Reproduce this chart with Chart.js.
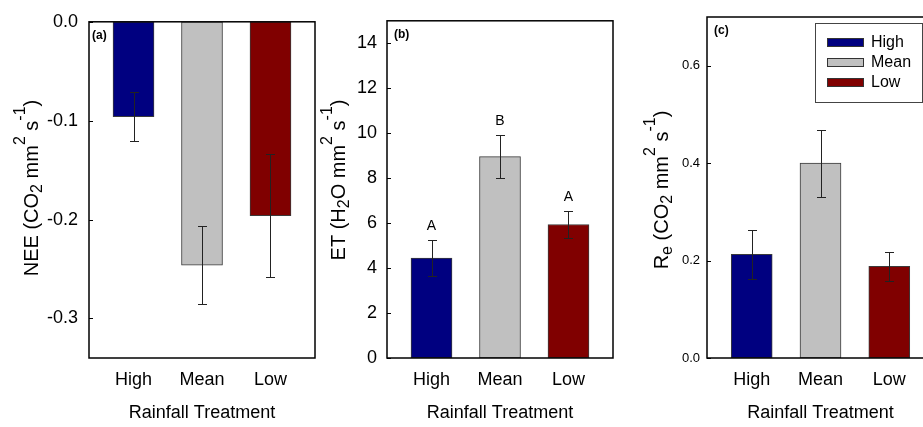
<!DOCTYPE html>
<html>
<head>
<meta charset="utf-8">
<script src="https://cdn.jsdelivr.net/npm/chart.js@4.4.1/dist/chart.umd.min.js"></script>
<style>
  html, body { margin: 0; padding: 0; overflow: hidden; background: #fff; width: 923px; height: 427px; }
  canvas { position: absolute; top: 0; }
</style>
</head>
<body>
<canvas id="panelA" width="330" height="427" style="left:0px;width:330px;height:427px"></canvas>
<canvas id="panelB" width="310" height="427" style="left:310px;width:310px;height:427px"></canvas>
<canvas id="panelC" width="330" height="427" style="left:620px;width:330px;height:427px"></canvas>
<script>
// Rainfall treatments and bar fills
const categories = ['High', 'Mean', 'Low'];
const barColors = ['#000080', '#c0c0c0', '#800000'];

// (a) net ecosystem exchange
const neeMean = [-0.096, -0.246, -0.196];
const neeSE = [0.025, 0.039, 0.062];
const neeTicks = [0, -0.1, -0.2, -0.3];

// (b) evapotranspiration
const etMean = [4.44, 8.96, 5.94];
const etSE = [0.80, 0.97, 0.59];
const etLetters = ['A', 'B', 'A'];
const etTicks = [0, 2, 4, 6, 8, 10, 12, 14];

// (c) ecosystem respiration
const reMean = [0.213, 0.400, 0.188];
const reSE = [0.050, 0.069, 0.029];
const reTicks = [0, 0.2, 0.4, 0.6];

// Axis titles as [text, style] pieces: 0 normal, 1 subscript, 2 superscript
const neeTitle = [['NEE (CO', 0], ['2', 1], [' mm', 0], ['2', 2], [' s', 0], ['-1', 2], [')', 0]];
const etTitle = [['ET (H', 0], ['2', 1], ['O mm', 0], ['2', 2], [' s', 0], ['-1', 2], [')', 0]];
const reTitle = [['R', 0], ['e', 1], [' (CO', 0], ['2', 1], [' mm', 0], ['2', 2], [' s', 0], ['-1', 2], [')', 0]];
const xTitle = 'Rainfall Treatment';

const FONT = '"Liberation Sans", Arial, sans-serif';
const H = 427, PLOT_TOP = 17, PLOT_BOTTOM = 358;

// Box around the plot area with short inward ticks on the value axis
const frame = {
  id: 'frame',
  afterDraw(chart) {
    const {ctx, chartArea: a, scales: {y}} = chart;
    ctx.save();
    ctx.strokeStyle = '#000';
    ctx.lineWidth = 1.5;
    ctx.strokeRect(a.left, a.top, a.right - a.left, a.bottom - a.top);
    ctx.lineWidth = 1;
    y.ticks.forEach(t => {
      const py = Math.round(y.getPixelForValue(t.value)) + 0.5;
      ctx.beginPath();
      ctx.moveTo(a.left, py);
      ctx.lineTo(a.left + 4, py);
      ctx.stroke();
    });
    ctx.restore();
  }
};

// Standard-error whiskers and optional significance letters
const errorBars = {
  id: 'errorBars',
  afterDatasetsDraw(chart) {
    const ds = chart.data.datasets[0];
    const meta = chart.getDatasetMeta(0);
    const y = chart.scales.y;
    const ctx = chart.ctx;
    ctx.save();
    ctx.strokeStyle = '#222';
    ctx.lineWidth = 1;
    meta.data.forEach((bar, i) => {
      const v = ds.data[i].y, e = ds.errors[i];
      const x = Math.round(bar.x) + 0.5;
      const y1 = Math.round(y.getPixelForValue(v + e)) + 0.5;
      const y2 = Math.round(y.getPixelForValue(v - e)) + 0.5;
      ctx.beginPath();
      ctx.moveTo(x, y1); ctx.lineTo(x, y2);
      ctx.moveTo(x - 4.5, y1); ctx.lineTo(x + 4.5, y1);
      ctx.moveTo(x - 4.5, y2); ctx.lineTo(x + 4.5, y2);
      ctx.stroke();
      if (ds.letters) {
        ctx.fillStyle = '#000';
        ctx.font = '14px ' + FONT;
        ctx.textAlign = 'center';
        ctx.textBaseline = 'middle';
        ctx.fillText(ds.letters[i], bar.x, y1 - 14);
      }
    });
    ctx.restore();
  }
};

// Rotated axis title with sub- and superscripts
const yTitle = {
  id: 'yTitle',
  afterDraw(chart, args, opts) {
    if (!opts || !opts.parts) return;
    const ctx = chart.ctx;
    const sizes = [20, 16, 16];
    const shift = [0, 4, -13];
    ctx.save();
    ctx.fillStyle = '#000';
    ctx.textBaseline = 'alphabetic';
    ctx.textAlign = 'left';
    let total = 0;
    const widths = opts.parts.map(([t, s]) => {
      ctx.font = sizes[s] + 'px ' + FONT;
      const w = ctx.measureText(t).width;
      total += w;
      return w;
    });
    ctx.translate(opts.x, opts.y);
    ctx.rotate(-Math.PI / 2);
    let px = -total / 2;
    opts.parts.forEach(([t, s], i) => {
      ctx.font = sizes[s] + 'px ' + FONT;
      ctx.fillText(t, px, shift[s]);
      px += widths[i];
    });
    ctx.restore();
  }
};

// Panel tag such as "(a)" in the upper-left corner
const panelTag = {
  id: 'panelTag',
  afterDraw(chart, args, opts) {
    if (!opts || !opts.text) return;
    const {ctx, chartArea: a} = chart;
    ctx.save();
    ctx.fillStyle = '#000';
    ctx.font = 'bold 12px ' + FONT;
    ctx.textAlign = 'left';
    ctx.textBaseline = 'middle';
    ctx.fillText(opts.text, a.left + opts.dx, a.top + 14);
    ctx.restore();
  }
};

// Boxed legend listing the treatments
const boxLegend = {
  id: 'boxLegend',
  afterDraw(chart, args, opts) {
    if (!opts || !opts.show) return;
    const ctx = chart.ctx;
    const x0 = opts.x, y0 = opts.y;
    ctx.save();
    ctx.fillStyle = '#fff';
    ctx.fillRect(x0, y0, opts.w, opts.h);
    ctx.strokeStyle = '#444';
    ctx.lineWidth = 1;
    ctx.strokeRect(x0 + 0.5, y0 + 0.5, opts.w, opts.h);
    ctx.font = '16px ' + FONT;
    ctx.textBaseline = 'middle';
    ctx.textAlign = 'left';
    categories.forEach((c, i) => {
      const cy = y0 + 19 + i * 20;
      ctx.fillStyle = barColors[i];
      ctx.fillRect(x0 + 12, cy - 4, 36, 8);
      ctx.strokeStyle = '#333';
      ctx.strokeRect(x0 + 12.5, cy - 3.5, 36, 8);
      ctx.fillStyle = '#000';
      ctx.fillText(c, x0 + 56, cy + 1);
    });
    ctx.restore();
  }
};

function makePanel(id, cfg) {
  const points = cfg.means.map((v, i) => ({x: i + 1, y: v}));
  return new Chart(document.getElementById(id), {
    type: 'bar',
    data: {
      datasets: [{
        data: points,
        errors: cfg.se,
        letters: cfg.letters,
        backgroundColor: barColors,
        borderColor: '#3a3a3a',
        borderWidth: 1,
        borderSkipped: false,
        barThickness: 41
      }]
    },
    options: {
      responsive: false,
      animation: false,
      devicePixelRatio: 1,
      layout: {padding: {top: PLOT_TOP, right: cfg.rightPad, bottom: 0, left: 0}},
      plugins: {
        legend: {display: false},
        tooltip: {enabled: false},
        yTitle: cfg.title,
        panelTag: cfg.tag,
        boxLegend: cfg.legend || {show: false}
      },
      scales: {
        x: {
          type: 'linear',
          offset: false,
          min: 0.35,
          max: 3.65,
          grid: {display: false, drawTicks: false, offset: false},
          border: {display: false},
          afterBuildTicks: ax => { ax.ticks = categories.map((c, i) => ({value: i + 1})); },
          afterFit: ax => { ax.height = H - PLOT_BOTTOM; },
          ticks: {
            callback: v => categories[v - 1],
            font: {family: FONT, size: 18},
            color: '#000',
            padding: 11,
            autoSkip: false,
            maxRotation: 0
          },
          title: {
            display: true,
            text: xTitle,
            font: {family: FONT, size: 18},
            color: '#000',
            padding: {top: 0, bottom: 3}
          }
        },
        y: {
          min: cfg.min,
          max: cfg.max,
          afterBuildTicks: ax => { ax.ticks = cfg.ticks.map(v => ({value: v})); },
          afterFit: ax => { ax.width = cfg.left; },
          grid: {display: false, drawTicks: false},
          border: {display: false},
          ticks: {
            callback: cfg.fmt,
            font: {family: FONT, size: cfg.tickSize},
            color: '#000',
            padding: cfg.tickPad
          }
        }
      }
    },
    plugins: [frame, errorBars, yTitle, panelTag, boxLegend]
  });
}

makePanel('panelA', {
  means: neeMean, se: neeSE, ticks: neeTicks,
  min: -0.34, max: 0, left: 89, rightPad: 15, tickSize: 18, tickPad: 11,
  fmt: v => v.toFixed(1),
  title: {parts: neeTitle, x: 38, y: 188},
  tag: {text: '(a)', dx: 3}
});

makePanel('panelB', {
  means: etMean, se: etSE, letters: etLetters, ticks: etTicks,
  min: 0, max: 15, left: 77, rightPad: 7, tickSize: 18, tickPad: 10,
  fmt: v => String(v),
  title: {parts: etTitle, x: 35, y: 180},
  tag: {text: '(b)', dx: 7}
});

makePanel('panelC', {
  means: reMean, se: reSE, ticks: reTicks,
  min: 0, max: 0.7, left: 87, rightPad: 16, tickSize: 13, tickPad: 7,
  fmt: v => v.toFixed(1),
  title: {parts: reTitle, x: 48, y: 190},
  tag: {text: '(c)', dx: 7},
  legend: {show: true, x: 195, y: 23, w: 107, h: 79}
});
</script>
</body>
</html>
